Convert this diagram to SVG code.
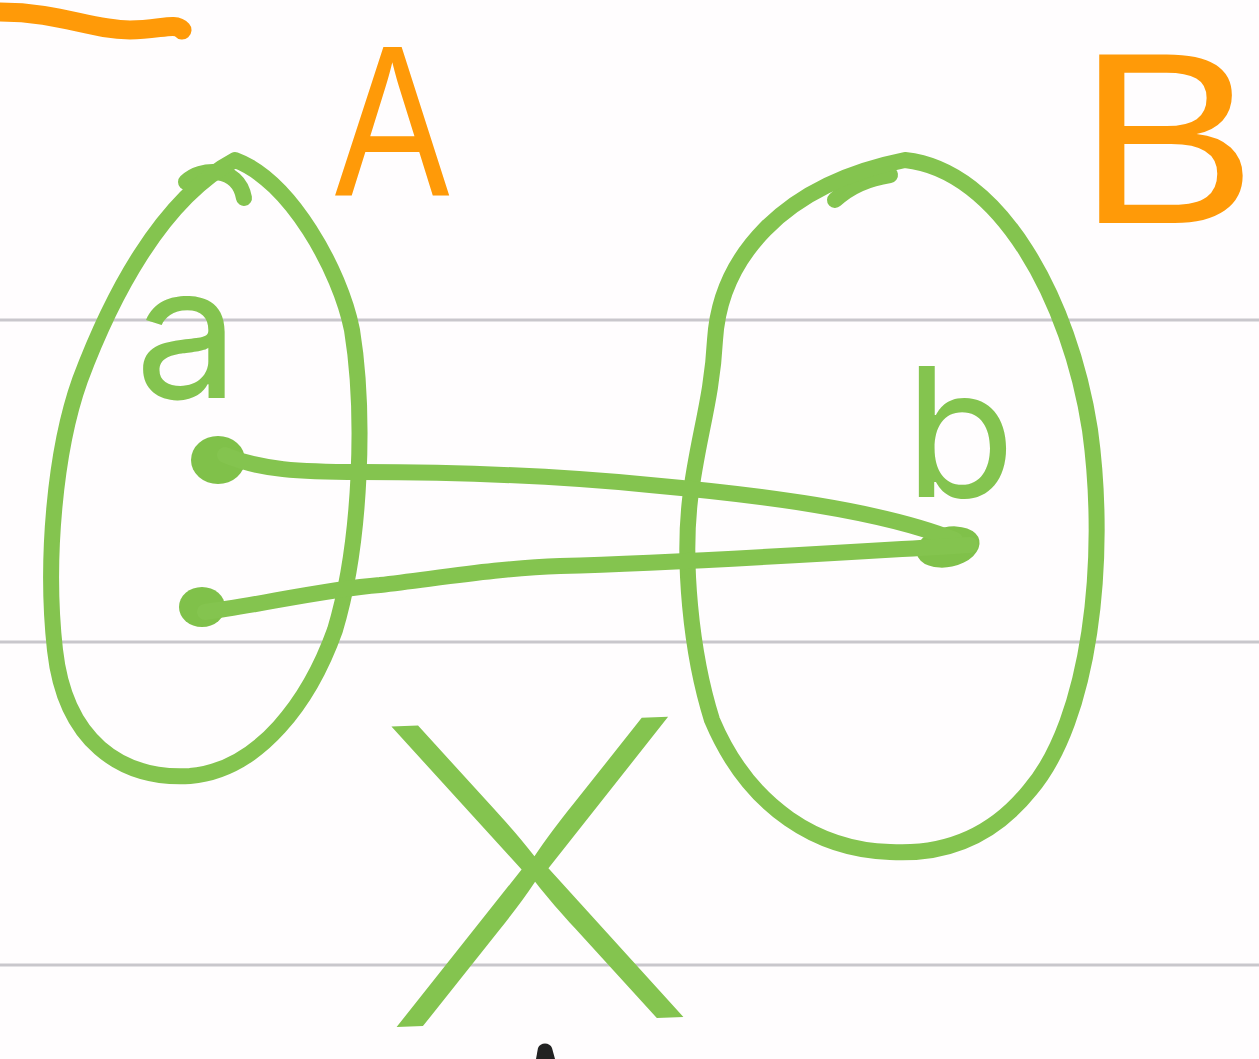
<svg xmlns="http://www.w3.org/2000/svg" width="1259" height="1059" viewBox="0 0 1259 1059">
<style>
.rule{stroke:#c9c7cc;stroke-width:3;fill:none}
.g{stroke:#84c44f;stroke-width:16;fill:none;stroke-linecap:round;stroke-linejoin:round}
.o{stroke:#ff9a08;stroke-width:19;fill:none;stroke-linecap:round}
.dot{fill:#80c14a}
.lo{fill:#ff9a08;font-family:"Liberation Sans",Arial,sans-serif;text-anchor:middle}
.lg{fill:#84c44f;font-family:Inter,"Liberation Sans",sans-serif}
</style>
<rect width="1259" height="1059" fill="#fffdfe"/>
<g id="rules">
<line class="rule" x1="0" y1="320" x2="1259" y2="320"/>
<line class="rule" x1="0" y1="642" x2="1259" y2="642"/>
<line class="rule" x1="0" y1="965" x2="1259" y2="965"/>
</g>
<path class="o" d="M0,12 C60,12 90,30 130,30 C160,30 175,22 182,30"/>
<g id="setA">
<path class="g" d="M186,182 C200,168 238,165 244,198"/>
<path class="g" d="M235,160 C290,180 340,270 352,330 C365,410 362,540 335,630 C310,700 260,770 190,776 C120,780 65,740 55,650 C45,560 55,450 80,380 C110,300 160,200 235,160 Z"/>
<text class="lo" font-size="215" transform="translate(392,195) scale(0.8,1)">A</text>
<text class="lg" x="135" y="398" font-size="185" font-weight="400">a</text>
<ellipse class="dot" cx="218" cy="460" rx="27" ry="24"/>
<ellipse class="dot" cx="202" cy="607" rx="23" ry="20"/>
</g>
<g id="setB">
<path class="g" d="M835,200 C850,186 870,178 890,175"/>
<path class="g" d="M905,160 C1000,170 1070,300 1090,430 C1108,560 1090,720 1030,790 C990,840 940,855 890,852 C820,850 750,810 712,720 C690,650 683,560 690,500 C697,440 712,400 715,340 C720,260 780,185 905,160 Z"/>
<text class="lo" font-size="245" transform="translate(1167,223) scale(1.1,1)">B</text>
<text class="lg" x="905" y="497" font-size="180" font-weight="400">b</text>
<ellipse class="dot" cx="948" cy="547" rx="32" ry="20" transform="rotate(-12 948 547)"/>
</g>
<g id="connectors">
<path class="g" d="M225,455 C260,470 300,472 360,472 C450,472 560,476 650,485 C760,495 880,510 955,540"/>
<path class="g" d="M205,612 C260,605 320,590 380,585 C440,578 500,568 560,566 C700,562 850,552 970,545"/>
</g>
<g id="X">
<text class="lg" x="0" y="0" font-size="413" font-weight="200" text-anchor="middle" transform="translate(540,1022) rotate(-2) scale(1.2,1)">X</text>
</g>
<path d="M536,1059 L538,1048 C540,1042 550,1042 552,1048 L555,1059 Z" fill="#222"/>
</svg>
